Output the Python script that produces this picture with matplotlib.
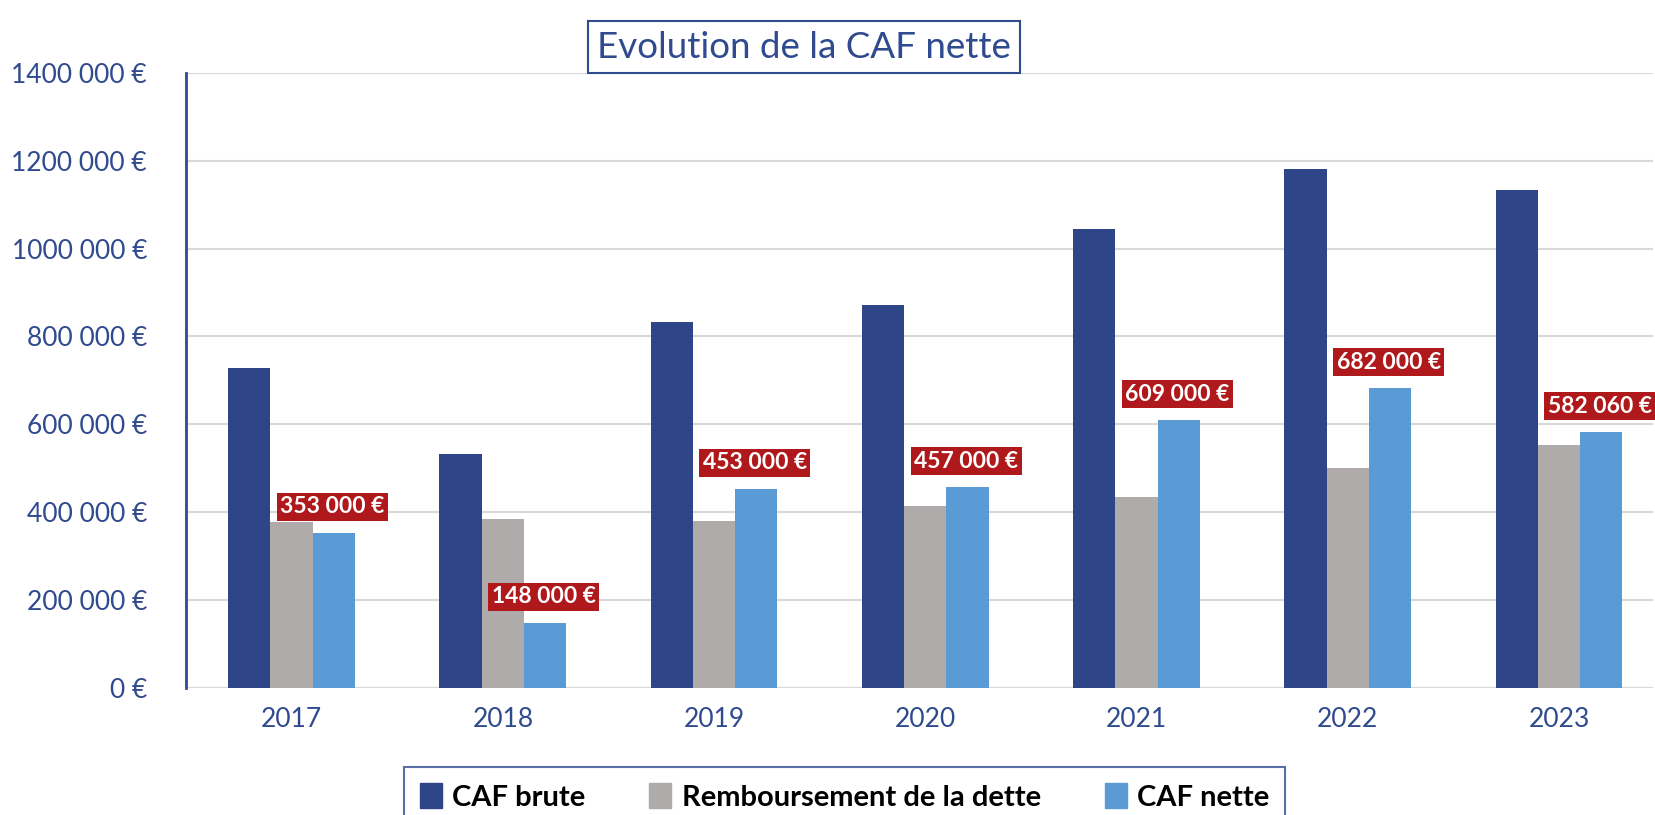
import numpy as np
import matplotlib
matplotlib.use("Agg")
import matplotlib.pyplot as plt
from matplotlib.patches import Patch

plt.rcParams["font.family"] = ["Lato", "DejaVu Sans"]

years = ["2017", "2018", "2019", "2020", "2021", "2022", "2023"]
caf_brute = [729000, 532000, 833000, 871000, 1044000, 1182000, 1134000]
remboursement = [376000, 384000, 380000, 414000, 435000, 500000, 552000]
caf_nette = [353000, 148000, 453000, 457000, 609000, 682000, 582060]
net_labels = ["353 000 €", "148 000 €", "453 000 €", "457 000 €",
              "609 000 €", "682 000 €", "582 060 €"]
yticks = [0, 200000, 400000, 600000, 800000, 1000000, 1200000, 1400000]
ytick_labels = ["0 €", "200 000 €", "400 000 €", "600 000 €", "800 000 €",
                "1000 000 €", "1200 000 €", "1400 000 €"]

c_brute = "#2E4588"
c_remb = "#AFABAB"
c_nette = "#5B9BD5"
c_text = "#2F4A8E"
c_label = "#B0191B"

fig = plt.figure(figsize=(16.56, 8.15), dpi=100)
ax = fig.add_axes([186 / 1656, 1 - 687.5 / 815, (1653 - 186) / 1656, (687.5 - 73) / 815])

x = np.arange(len(years))
w = 0.2
ax.bar(x - w, caf_brute, w, color=c_brute, zorder=3)
ax.bar(x, remboursement, w, color=c_remb, zorder=3)
ax.bar(x + w, caf_nette, w, color=c_nette, zorder=3)

for xi, v, lab in zip(x, caf_nette, net_labels):
    ax.annotate(lab, (xi + w, v), xytext=(-1, 11), textcoords="offset points",
                ha="center", va="bottom", color="white", fontsize=16.5,
                fontweight="bold", zorder=5,
                bbox=dict(boxstyle="square,pad=0.15", fc=c_label, ec="none"))

ax.set_xlim(-0.5, 6.445)
ax.set_ylim(0, 1400000)
ax.set_yticks(yticks)
ax.set_yticklabels(ytick_labels, color=c_text, fontsize=19)
ax.set_xticks(x)
ax.set_xticklabels(years, color=c_text, fontsize=19)
ax.tick_params(length=0, pad=14)
ax.tick_params(axis="y", pad=28)
ax.grid(axis="y", color="#D9D9D9", linewidth=1.5, zorder=0)
for s in ["top", "right", "bottom"]:
    ax.spines[s].set_visible(False)
ax.spines["left"].set_color(c_text)
ax.spines["left"].set_linewidth(2)
ax.axhline(0, color="#D9D9D9", linewidth=1.5, zorder=1)

fig.text(0.4856, 1 - 47 / 815, "Evolution de la CAF nette", ha="center", va="center",
         fontsize=26.5, color=c_text,
         bbox=dict(boxstyle="square,pad=0.25", fc="white", ec=c_text, lw=1.5))

handles = [Patch(color=c_brute), Patch(color=c_remb), Patch(color=c_nette)]
leg = fig.legend(handles, ["CAF brute", "Remboursement de la dette", "CAF nette"],
                 loc="upper center", bbox_to_anchor=(0.510, 1 - 767 / 815), ncol=3,
                 frameon=True, fancybox=False, handlelength=0.75, handleheight=0.95,
                 handletextpad=0.35, columnspacing=2.2, borderpad=0.55,
                 borderaxespad=0, prop={"weight": "bold", "size": 21})
leg.get_frame().set_edgecolor(c_text)
leg.get_frame().set_linewidth(1.5)

fig.savefig("out.png", dpi=100)
